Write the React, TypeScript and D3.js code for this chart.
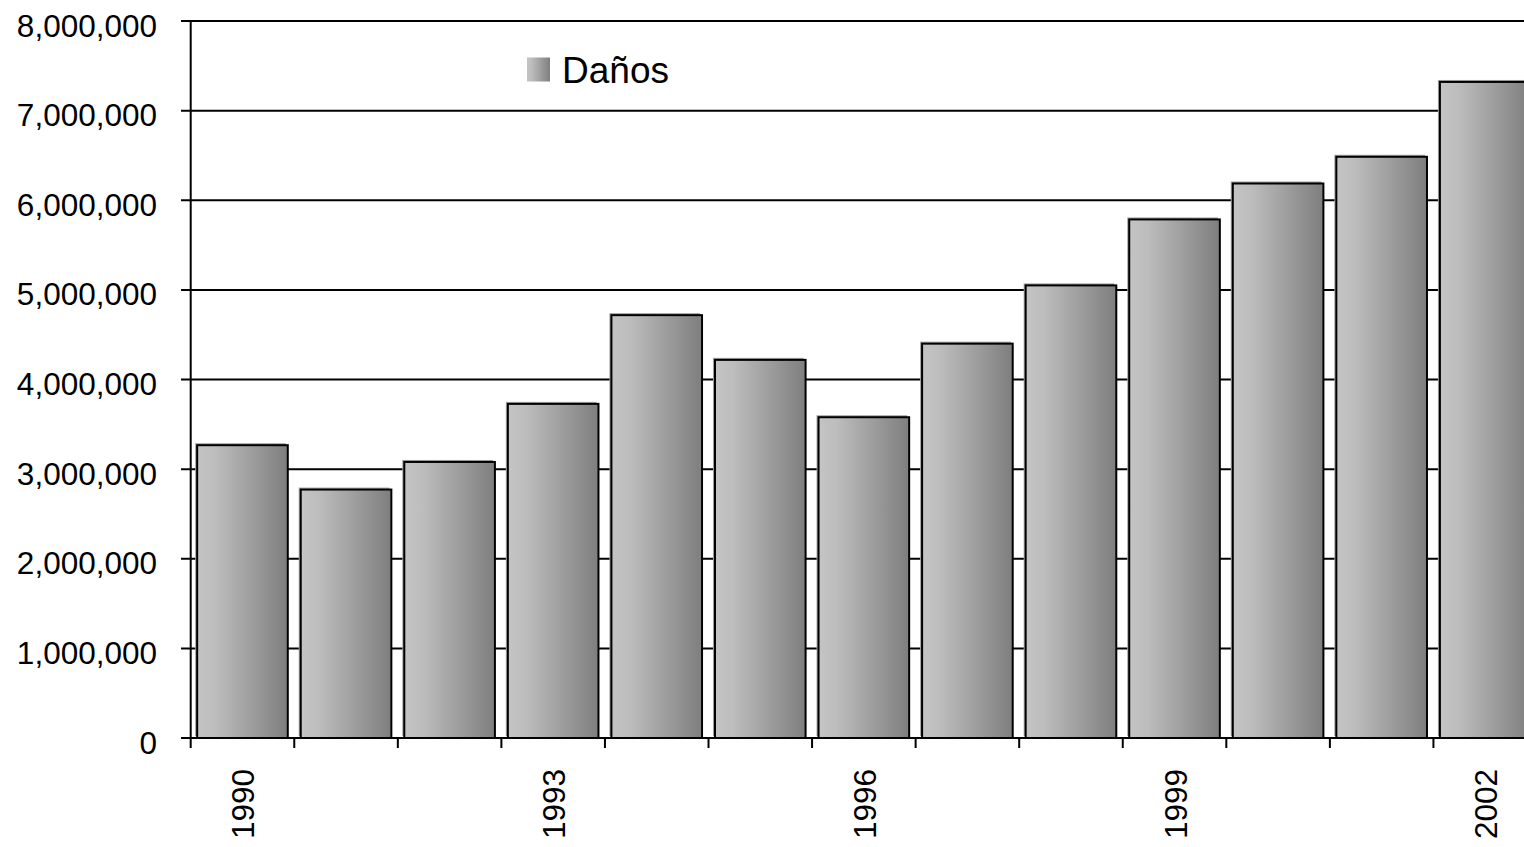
import React from "react";
import * as d3 from "d3";

const years: string[] = ["1990","1991","1992","1993","1994","1995","1996","1997","1998","1999","2000","2001","2002"];
const danos: number[] = [3267000, 2772000, 3080000, 3728000, 4718000, 4219000, 3579000, 4400000, 5050000, 5786000, 6187000, 6485000, 7320000];
const yTicks: number[] = [0, 1000000, 2000000, 3000000, 4000000, 5000000, 6000000, 7000000, 8000000];
const labeledYears: string[] = ["1990", "1993", "1996", "1999", "2002"];
const seriesName = "Daños";

const W = 1524;
const H = 847;
const FONT = "'Liberation Sans', Arial, sans-serif";

export default function App() {
  const left = 190.7;
  const right = 1537;
  const top = 21;
  const bottom = 738;

  const x = d3.scaleBand<string>().domain(years).range([left, right]).paddingInner(0.125).paddingOuter(0.0625);
  const y = d3.scaleLinear().domain([0, 8000000]).range([bottom, top]);
  const fmt = d3.format(",");
  const step = x.step();
  const boundaries = years.map((_, i) => left + i * step);

  return (
    <svg width={W} height={H} style={{ position: "absolute", left: 0, top: 0, background: "#fff" }} fontFamily={FONT}>
      <defs>
        <linearGradient id="barGrad" x1="0" y1="0" x2="1" y2="0">
          <stop offset="0%" stopColor="#c4c4c4" />
          <stop offset="20%" stopColor="#bdbdbd" />
          <stop offset="100%" stopColor="#7e7e7e" />
        </linearGradient>
      </defs>

      {/* gridlines + y ticks */}
      {yTicks.map((t) => (
        <line key={"g" + t} x1={181} x2={W} y1={y(t)} y2={y(t)} stroke="#000" strokeWidth={2} />
      ))}
      {yTicks.map((t) => (
        <text key={"yl" + t} x={157} y={y(t) + 15.5} textAnchor="end" fontSize={31.5} fill="#000">
          {fmt(t)}
        </text>
      ))}

      {/* y axis */}
      <line x1={left} x2={left} y1={top} y2={bottom} stroke="#000" strokeWidth={2} />

      {/* x ticks */}
      {boundaries.map((b, i) => (
        <line key={"xt" + i} x1={b} x2={b} y1={bottom} y2={bottom + 10} stroke="#000" strokeWidth={2} />
      ))}

      {/* bars */}
      {years.map((yr, i) => {
        const bx = x(yr) as number;
        const bw = x.bandwidth();
        const by = y(danos[i]);
        const bh = bottom - by;
        return (
          <g key={"b" + yr}>
            <rect x={bx - 2} y={by - 2} width={bw} height={bh} fill="#a0a0a0" />
            <rect x={bx} y={by} width={bw} height={bh} fill="url(#barGrad)" stroke="#000" strokeWidth={2} />
          </g>
        );
      })}

      {/* x axis line */}
      <line x1={181} x2={W} y1={bottom} y2={bottom} stroke="#000" strokeWidth={2} />

      {/* x labels */}
      {labeledYears.map((yr) => {
        const cx = (x(yr) as number) + x.bandwidth() / 2 + 12;
        const ty = bottom + 31;
        return (
          <text key={"xl" + yr} transform={`translate(${cx},${ty}) rotate(-90)`} textAnchor="end" fontSize={31.5} fill="#000">
            {yr}
          </text>
        );
      })}

      {/* legend */}
      <rect x={527} y={57.5} width={23} height={24} fill="url(#barGrad)" />
      <text x={562} y={83} fontSize={37} fill="#000">{seriesName}</text>
    </svg>
  );
}
